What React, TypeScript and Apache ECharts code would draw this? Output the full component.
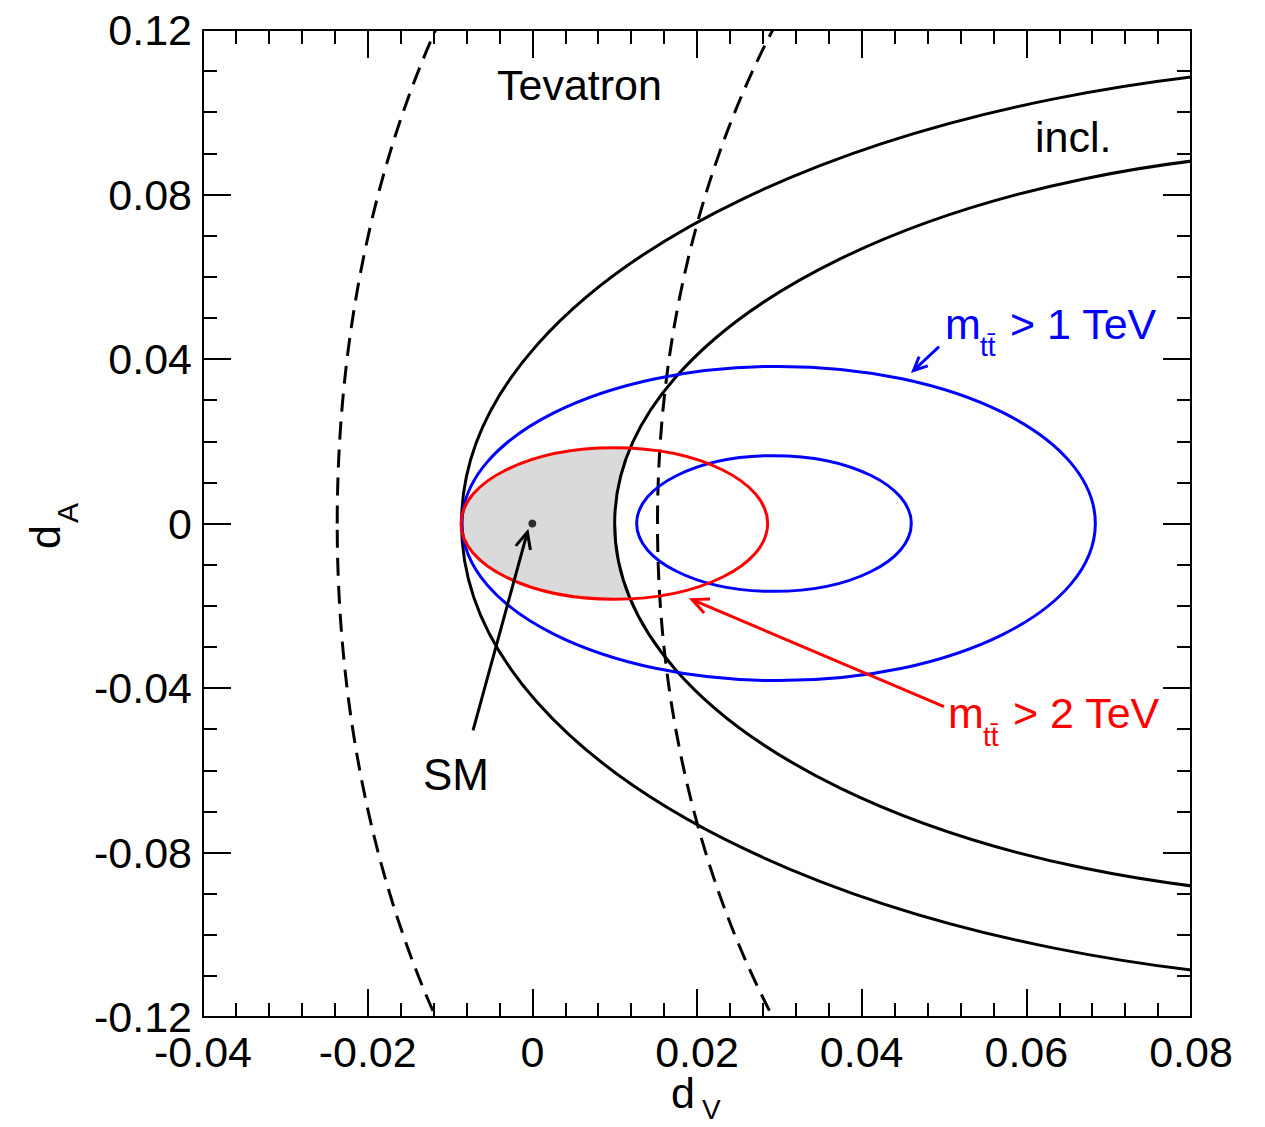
import React, { useEffect, useRef } from "react";
import * as echarts from "echarts";

// ---- axes -------------------------------------------------------------
const X_MIN = -0.04;
const X_MAX = 0.08;
const X_STEP = 0.02;
const Y_MIN = -0.12;
const Y_MAX = 0.12;
const Y_STEP = 0.04;
const xTickLabels = ["-0.04", "-0.02", "0", "0.02", "0.04", "0.06", "0.08"];
const yTickLabels = ["-0.12", "-0.08", "-0.04", "0", "0.04", "0.08", "0.12"];

// ---- contours: [centre dV, centre dA, semi-axis dV, semi-axis dA] ------
const inclInner = [0.109, 0, 0.1176, 0.112];
const inclOuter = [0.1035, 0, 0.0935, 0.091];
const tevatronLeft = [0.0361, 0, 0.0598, 0.2];
const tevatronRight = [0.0892, 0, 0.074, 0.205];
const cut1TeVInner = [0.02935, 0, 0.01668, 0.0165];
const cut1TeVOuter = [0.02992, 0, 0.03846, 0.0382];
const cut2TeV = [0.00996, 0, 0.01862, 0.0184];

// ---- Standard Model point ---------------------------------------------
const smPoint = [0, 0];

// ---- arrows: [tail dV, tail dA, head dV, head dA] ----------------------
const smArrow = [-0.0072, -0.0503, -0.0006, -0.0021];
const arrow1TeV = [0.0494, 0.043, 0.0463, 0.0372];
const arrow2TeV = [0.05, -0.0445, 0.0194, -0.0185];

const FONT = '"Liberation Sans", Arial, Helvetica, sans-serif';
const BLUE = "#0000ff";
const RED = "#ff0000";

function fmt(labels: string[], min: number, step: number) {
  return (v: number) => {
    const i = Math.round((v - min) / step);
    return labels[i] ?? "";
  };
}

function ellipseSeries(name: string, params: number[], style: any, z: number) {
  return {
    type: "custom",
    name,
    coordinateSystem: "cartesian2d",
    clip: true,
    z,
    silent: true,
    encode: { x: 0, y: 1 },
    data: [params],
    renderItem: (_p: any, api: any) => {
      const c = api.coord([api.value(0), api.value(1)]);
      const s = api.size([api.value(2), api.value(3)]);
      return {
        type: "ellipse",
        shape: { cx: c[0], cy: c[1], rx: Math.abs(s[0]), ry: Math.abs(s[1]) },
        style: { fill: "none", ...style },
      };
    },
  };
}

function arrowSeries(name: string, params: number[], color: string, headLen: number) {
  return {
    type: "custom",
    name,
    coordinateSystem: "cartesian2d",
    clip: false,
    z: 6,
    silent: true,
    encode: { x: [0, 2], y: [1, 3] },
    itemStyle: { color },
    data: [params],
    renderItem: (_p: any, api: any) => {
      const p1 = api.coord([api.value(0), api.value(1)]);
      const p2 = api.coord([api.value(2), api.value(3)]);
      const ang = Math.atan2(p1[1] - p2[1], p1[0] - p2[0]);
      const a = (25 * Math.PI) / 180;
      const w1 = [p2[0] + headLen * Math.cos(ang + a), p2[1] + headLen * Math.sin(ang + a)];
      const w2 = [p2[0] + headLen * Math.cos(ang - a), p2[1] + headLen * Math.sin(ang - a)];
      return {
        type: "group",
        children: [
          {
            type: "line",
            shape: { x1: p1[0], y1: p1[1], x2: p2[0], y2: p2[1] },
            style: { stroke: color, lineWidth: 3 },
          },
          {
            type: "polyline",
            shape: { points: [w1, p2, w2] },
            style: { stroke: color, lineWidth: 3, fill: "none" },
          },
        ],
      };
    },
  };
}

function txt(text: string, x: number, baseline: number, size: number, color = "#000") {
  return {
    type: "text",
    x,
    y: baseline - 0.3465 * size,
    silent: true,
    z: 20,
    style: {
      text,
      fill: color,
      fontSize: size,
      fontFamily: FONT,
      textAlign: "left",
      textVerticalAlign: "middle",
    },
  };
}

function axisCommon(extra: any) {
  return {
    type: "value",
    z: 10,
    axisLine: { show: true, onZero: false, lineStyle: { color: "#000", width: 2 } },
    axisTick: { show: true, inside: true, length: 28, lineStyle: { color: "#000", width: 2 } },
    splitLine: { show: false },
    minorSplitLine: { show: false },
    ...extra,
  };
}

export default function App() {
  const ref = useRef<HTMLDivElement>(null);

  useEffect(() => {
    if (!ref.current) return;
    const chart = echarts.init(ref.current, undefined, { renderer: "svg" });

    const xLabelFmt = fmt(xTickLabels, X_MIN, X_STEP);
    const yLabelFmt = fmt(yTickLabels, Y_MIN, Y_STEP);

    const xBase = {
      min: X_MIN,
      max: X_MAX,
      interval: X_STEP,
      minorTick: { show: true, splitNumber: 5, length: 14, lineStyle: { color: "#000", width: 2 } },
    };
    const yBase = {
      min: Y_MIN,
      max: Y_MAX,
      interval: Y_STEP,
      minorTick: { show: true, splitNumber: 4, length: 14, lineStyle: { color: "#000", width: 2 } },
    };

    const option: any = {
      animation: false,
      backgroundColor: "#ffffff",
      grid: { left: 203, top: 30, width: 988, height: 987, containLabel: false },
      xAxis: [
        axisCommon({
          ...xBase,
          position: "bottom",
          axisLabel: {
            show: true,
            margin: 13,
            color: "#000",
            fontSize: 43,
            fontFamily: FONT,
            showMinLabel: true,
            showMaxLabel: true,
            formatter: xLabelFmt,
          },
        }),
        axisCommon({ ...xBase, position: "top", axisLabel: { show: false } }),
      ],
      yAxis: [
        axisCommon({
          ...yBase,
          position: "left",
          axisLabel: {
            show: true,
            margin: 11,
            color: "#000",
            fontSize: 43,
            fontFamily: FONT,
            showMinLabel: true,
            showMaxLabel: true,
            formatter: yLabelFmt,
          },
        }),
        axisCommon({ ...yBase, position: "right", axisLabel: { show: false } }),
      ],
      series: [
        // shaded region: inside the m>2 TeV contour, left of the inner inclusive edge
        ellipseSeries("shade", cut2TeV, { fill: "#dadada", stroke: "none" }, 1),
        ellipseSeries("shade-mask", inclOuter, { fill: "#ffffff", stroke: "none" }, 1),
        ellipseSeries("incl. outer", inclInner, { stroke: "#000", lineWidth: 3 }, 3),
        ellipseSeries("incl. inner", inclOuter, { stroke: "#000", lineWidth: 3 }, 3),
        ellipseSeries("Tevatron left", tevatronLeft, { stroke: "#000", lineWidth: 3, lineDash: [18, 10] }, 3),
        ellipseSeries("Tevatron right", tevatronRight, { stroke: "#000", lineWidth: 3, lineDash: [18, 10] }, 3),
        ellipseSeries("m > 1 TeV outer", cut1TeVOuter, { stroke: BLUE, lineWidth: 3 }, 4),
        ellipseSeries("m > 1 TeV inner", cut1TeVInner, { stroke: BLUE, lineWidth: 3 }, 4),
        ellipseSeries("m > 2 TeV", cut2TeV, { stroke: RED, lineWidth: 3 }, 5),
        {
          type: "scatter",
          name: "SM",
          data: [smPoint],
          symbol: "circle",
          symbolSize: 8,
          itemStyle: { color: "#000" },
          z: 7,
          silent: true,
        },
        arrowSeries("SM arrow", smArrow, "#000", 18),
        arrowSeries("1 TeV arrow", arrow1TeV, BLUE, 15),
        arrowSeries("2 TeV arrow", arrow2TeV, RED, 18),
      ],
      graphic: {
        elements: [
          txt("Tevatron", 497, 100, 43),
          txt("incl.", 1035, 152, 43),
          txt("SM", 423, 790, 44),
          txt("m", 945, 339, 43, BLUE),
          txt("tt\u0304", 980, 356, 28, BLUE),
          txt("> 1 TeV", 1010, 339, 43, BLUE),
          txt("m", 948, 728, 43, RED),
          txt("tt\u0304", 983, 746, 28, RED),
          txt("> 2 TeV", 1013, 728, 43, RED),
          txt("d", 671, 1108, 43),
          txt("V", 702, 1119, 28),
          {
            type: "group",
            x: 60,
            y: 549,
            rotation: Math.PI / 2,
            children: [txt("d", 0, 0, 43), txt("A", 26, 18, 30)],
          },
        ],
      },
    };

    chart.setOption(option);
    return () => chart.dispose();
  }, []);

  return (
    <div
      ref={ref}
      style={{ position: "fixed", left: 0, top: 0, width: 1265, height: 1127, background: "#fff" }}
    />
  );
}
